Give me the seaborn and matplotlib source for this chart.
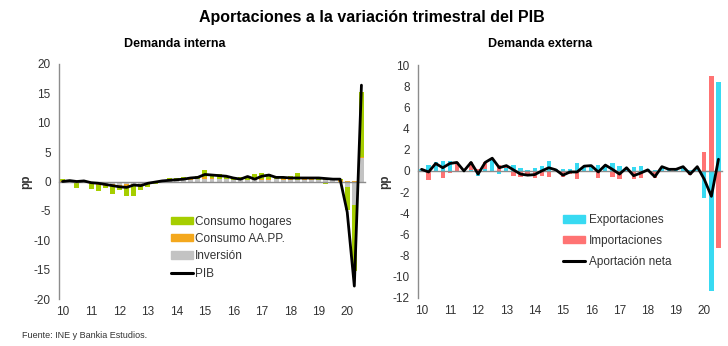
import numpy as np
import matplotlib
matplotlib.use("Agg")
import matplotlib.pyplot as plt
from matplotlib import font_manager
from matplotlib.patches import Patch
from matplotlib.lines import Line2D
import seaborn as sns

# Quarterly contributions (pp), 2010Q1 - 2020Q3
years = [str(y % 100) for y in range(2010, 2021)]

consumo_hogares = [0.3, -0.1, -0.8, 0.1, -0.9, -1.1, -0.4, -1.4, -0.6, -1.7, -1.7, -0.8, -0.4, -0.3, 0.2, 0.3,
                   0.5, 0.3, 0.4, 0.6, 1.3, 0.6, 0.7, 0.4, 0.5, 0.3, 0.4, 0.8, 1.0, 0.9, 0.5, 0.4,
                   0.5, 1.1, 0.3, 0.3, 0.4, -0.35, 0.3, 0.3, -3.8, -11.3, 11.1]
consumo_aapp = [0.1, 0.0, -0.1, 0.0, -0.1, -0.2, -0.2, -0.3, -0.2, -0.3, -0.3, -0.2, -0.1, 0.0, 0.0, 0.1,
                0.0, 0.1, 0.1, 0.0, 0.2, 0.1, 0.1, 0.1, 0.1, 0.1, 0.0, 0.1, 0.1, 0.1, 0.1, 0.1,
                0.2, 0.1, 0.2, 0.2, 0.1, 0.2, 0.1, 0.2, 0.1, 0.1, 0.2]
inversion = [-0.3, 0.1, -0.2, -0.1, -0.3, -0.4, -0.5, -0.4, -0.6, -0.5, -0.5, -0.4, -0.4, -0.2, 0.1, 0.2,
             0.1, 0.3, 0.3, 0.4, 0.5, 0.5, 0.4, 0.4, 0.2, 0.3, 0.2, 0.3, 0.3, 0.3, 0.4, 0.3,
             0.3, 0.2, 0.3, 0.2, 0.2, 0.2, 0.2, -0.1, -1.0, -4.0, 4.0]
pib = [0.0, 0.15, 0.0, 0.1, -0.2, -0.3, -0.5, -0.7, -0.9, -1.0, -0.6, -0.7, -0.3, -0.1, 0.1, 0.2,
       0.3, 0.4, 0.6, 0.7, 1.2, 1.1, 1.0, 0.9, 0.6, 0.4, 0.85, 0.4, 0.9, 1.1, 0.7, 0.7,
       0.6, 0.6, 0.6, 0.6, 0.6, 0.5, 0.4, 0.4, -5.2, -17.8, 16.4]

exportaciones = [0.2, 0.6, 0.8, 0.95, 0.9, 0.0, 0.1, 0.1, -0.5, 0.2, 1.2, -0.3, 0.3, 0.6, 0.3, 0.1,
                 0.3, 0.5, 0.9, 0.2, 0.2, 0.2, 0.7, 0.5, 0.5, 0.6, 0.6, 0.7, 0.45, 0.3, 0.35, 0.45,
                 0.2, 0.1, 0.3, 0.2, 0.2, 0.3, 0.1, 0.3, -2.6, -11.3, 8.4]
importaciones = [-0.05, -0.85, -0.1, -0.65, -0.2, 0.8, -0.1, 0.7, 0.2, 0.6, 0.0, 0.6, 0.2, -0.5, -0.6, -0.5,
                 -0.65, -0.5, -0.6, -0.1, -0.6, -0.3, -0.8, -0.05, 0.0, -0.7, -0.05, -0.55, -0.75, 0.0, -0.8, -0.65,
                 -0.1, -0.65, 0.1, -0.05, -0.05, 0.1, -0.4, 0.1, 1.8, 9.0, -7.3]
aportacion_neta = [0.15, -0.1, 0.7, 0.3, 0.7, 0.8, 0.0, 0.8, -0.3, 0.8, 1.2, 0.3, 0.5, 0.1, -0.3, -0.4,
                   -0.35, 0.0, 0.3, 0.1, -0.4, -0.1, -0.1, 0.45, 0.5, -0.1, 0.55, 0.15, -0.3, 0.3, -0.45, -0.2,
                   0.1, -0.55, 0.4, 0.15, 0.15, 0.4, -0.3, 0.4, -0.8, -2.4, 1.1]

C_HOG, C_AAPP, C_INV = "#A6CE00", "#F4A81D", "#C3C3C3"
C_EXP, C_IMP = "#38DAF2", "#FF7373"
AXIS_GREY = "#8C8C8C"
TXT = "#333333"

sns.set_theme(style="white")
installed = {f.name for f in font_manager.fontManager.ttflist}
NARROW = "Liberation Sans Narrow" if "Liberation Sans Narrow" in installed else "Liberation Sans"
plt.rcParams["font.family"] = ["Liberation Sans", "DejaVu Sans"]
plt.rcParams["axes.unicode_minus"] = False

n = len(pib)
idx = np.arange(n)


def stacked_bars(ax, layers, colors, width):
    """Stack layers (inner first) above/below zero, drawing the outer totals first."""
    arr = np.array(layers, dtype=float)
    pos = np.cumsum(np.clip(arr, 0, None), axis=0)
    neg = np.cumsum(np.clip(arr, None, 0), axis=0)
    for k in reversed(range(len(layers))):
        for cum in (pos[k], neg[k]):
            sns.barplot(x=idx, y=cum, color=colors[k], saturation=1, width=width,
                        linewidth=0, errorbar=None, ax=ax, zorder=1)


def style_axis(ax, ylim, ystep):
    ax.set_ylim(*ylim)
    ax.set_xlim(-0.5, n - 0.5)
    ax.set_yticks(np.arange(ylim[0], ylim[1] + 0.1, ystep))
    for s in ("top", "right"):
        ax.spines[s].set_visible(False)
    ax.spines["left"].set_color(AXIS_GREY)
    ax.spines["left"].set_linewidth(1.0)
    ax.spines["bottom"].set_position(("data", 0))
    ax.spines["bottom"].set_color(AXIS_GREY)
    ax.spines["bottom"].set_linewidth(1.0)
    ax.spines["bottom"].set_zorder(3)
    ax.set_xticks(np.arange(3.5, n - 1, 4))
    ax.tick_params(axis="x", which="both", length=3, width=0.8, color=AXIS_GREY,
                   direction="out", labelbottom=False)
    ax.tick_params(axis="y", length=4, width=0.8, color=AXIS_GREY, direction="out",
                   labelsize=8.5, labelcolor=TXT, pad=2)
    ax.set_xlabel("")
    sec = ax.secondary_xaxis("bottom")
    sec.set_xticks(np.arange(0, n, 4), labels=years)
    sec.spines["bottom"].set_visible(False)
    sec.tick_params(length=0, pad=5, labelsize=8.5, labelcolor=TXT)
    ax.set_ylabel("pp", fontsize=8.5, fontweight="bold", color=TXT, labelpad=1)
    ax.grid(False)


fig = plt.figure(figsize=(7.28, 3.46), dpi=100)
axL = fig.add_axes([59 / 728, 47 / 346, 306 / 728, 235 / 346])
axR = fig.add_axes([418 / 728, 48 / 346, 304 / 728, 233 / 346])

# Demanda interna
stacked_bars(axL, [inversion, consumo_aapp, consumo_hogares], [C_INV, C_AAPP, C_HOG], 0.7)
sns.lineplot(x=idx, y=pib, color="black", linewidth=2.0, ax=axL, zorder=4)
style_axis(axL, (-20, 20), 5)

# Demanda externa
stacked_bars(axR, [exportaciones, importaciones], [C_EXP, C_IMP], 0.6)
sns.lineplot(x=idx, y=aportacion_neta, color="black", linewidth=2.0, ax=axR, zorder=4)
style_axis(axR, (-12, 10), 2)

legL = axL.legend(
    handles=[Patch(color=C_HOG), Patch(color=C_AAPP), Patch(color=C_INV),
             Line2D([], [], color="black", linewidth=2.2)],
    labels=["Consumo hogares", "Consumo AA.PP.", "Inversión", "PIB"],
    loc="upper left", bbox_to_anchor=(0.365, 0.355), frameon=False,
    prop={"family": NARROW, "size": 8.5}, handlelength=1.85, handleheight=0.55,
    handletextpad=0.2, labelspacing=0.45, borderpad=0, borderaxespad=0,
    labelcolor=TXT)

legR = axR.legend(
    handles=[Patch(color=C_EXP), Patch(color=C_IMP),
             Line2D([], [], color="black", linewidth=2.2)],
    labels=["Exportaciones", "Importaciones", "Aportación neta"],
    loc="upper left", bbox_to_anchor=(0.477, 0.36), frameon=False,
    prop={"family": NARROW, "size": 8.5}, handlelength=1.85, handleheight=0.55,
    handletextpad=0.35, labelspacing=0.75, borderpad=0, borderaxespad=0,
    labelcolor=TXT)

fig.text(0.511, 0.948, "Aportaciones a la variación trimestral del PIB", ha="center", va="center",
         fontsize=11.5, fontweight="bold", color="black")
fig.text(175 / 728, 1 - 44 / 346, "Demanda interna", ha="center", va="center",
         fontsize=9, fontweight="bold", color="black")
fig.text(540 / 728, 1 - 44 / 346, "Demanda externa", ha="center", va="center",
         fontsize=9, fontweight="bold", color="black")
fig.text(22 / 728, 1 - 335 / 346, "Fuente: INE y Bankia Estudios.", ha="left", va="center",
         fontsize=6.5, color=TXT)

fig.savefig("out.png", dpi=100)
